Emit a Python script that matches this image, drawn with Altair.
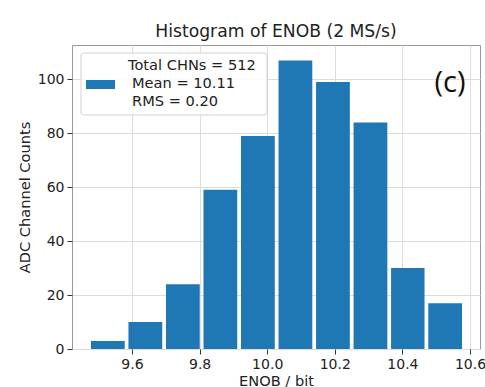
import altair as alt
import pandas as pd

# ---- data ----
bin_starts = [9.473, 9.584, 9.695, 9.806, 9.917, 10.028, 10.139, 10.250, 10.361, 10.471]
bin_ends = [9.584, 9.695, 9.806, 9.917, 10.028, 10.139, 10.250, 10.361, 10.471, 10.582]
counts = [3, 10, 24, 59, 79, 107, 99, 84, 30, 17]
x_ticks = [9.6, 9.8, 10.0, 10.2, 10.4, 10.6]
y_ticks = [0, 20, 40, 60, 80, 100]
legend_lines = ["Total CHNs = 512", "Mean = 10.11", "RMS = 0.20"]
panel_label = "(c)"
title_text = "Histogram of ENOB (2 MS/s)"

BLUE = "#1f77b4"
TEXT = "#222222"

df = pd.DataFrame({"start": bin_starts, "end": bin_ends, "count": counts})
leg = pd.DataFrame({"line": legend_lines, "i": list(range(len(legend_lines)))})

xscale = alt.Scale(domain=[9.4225, 10.6296], nice=False, zero=False)
yscale = alt.Scale(domain=[0, 112.7], nice=False)

bars = (
    alt.Chart(df)
    .transform_calculate(
        left="datum.start + 0.05*(datum.end - datum.start)",
        right="datum.end - 0.05*(datum.end - datum.start)",
    )
    .mark_rect(color=BLUE)
    .encode(
        x=alt.X("left:Q", scale=xscale,
                axis=alt.Axis(values=x_ticks, format=".1f", title="ENOB / bit")),
        x2="right:Q",
        y=alt.Y("count:Q", scale=yscale,
                axis=alt.Axis(values=y_ticks, title="ADC Channel Counts")),
        y2=alt.datum(0),
    )
)

one = pd.DataFrame({"k": [0]})

legend_box = alt.Chart(one).mark_rect(
    fill="white", fillOpacity=0.85, stroke="#d0d0d0", strokeWidth=1, cornerRadius=3
).encode(x=alt.value(9), x2=alt.value(195), y=alt.value(8), y2=alt.value(70))

swatch = alt.Chart(one).mark_rect(color=BLUE).encode(
    x=alt.value(14), x2=alt.value(43), y=alt.value(35), y2=alt.value(44)
)

legend_text = alt.Chart(leg).transform_calculate(
    ypos="20.5 + datum.i * 18.3",
    xpos="datum.i == 0 ? 56 : 60",
).mark_text(
    align="left", baseline="middle", fontSize=14.6, color=TEXT, font="DejaVu Sans"
).encode(
    x=alt.X("xpos:Q", scale=None), y=alt.Y("ypos:Q", scale=None), text="line:N"
)

label_c = alt.Chart(one).mark_text(
    align="center", baseline="middle", fontSize=29, color="#111111", font="Open Sans"
).encode(x=alt.value(378), y=alt.value(38), text=alt.value(panel_label))

chart = (
    alt.layer(bars, legend_box, swatch, legend_text, label_c)
    .properties(
        width=408, height=304,
        title=alt.TitleParams(title_text, fontSize=17.2, font="DejaVu Sans",
                              fontWeight="normal", color=TEXT, offset=5),
        autosize=alt.AutoSizeParams(type="none"),
        padding={"left": 72, "top": 45, "right": 5, "bottom": 38},
    )
    .configure_view(stroke="#999999", strokeWidth=1)
    .configure_axis(
        domain=False, grid=True, gridColor="#dddddd", gridWidth=1,
        tickColor="#333333", tickSize=5, labelFontSize=14, labelColor=TEXT,
        labelFont="DejaVu Sans", titleFont="DejaVu Sans", titleFontSize=14.6,
        titleFontWeight="normal", titleColor=TEXT, labelPadding=3,
    )
    .configure_axisX(titlePadding=2)
    .configure_axisY(titlePadding=5)
)

chart.save("out.html", embed_options={"renderer": "svg", "actions": False})
